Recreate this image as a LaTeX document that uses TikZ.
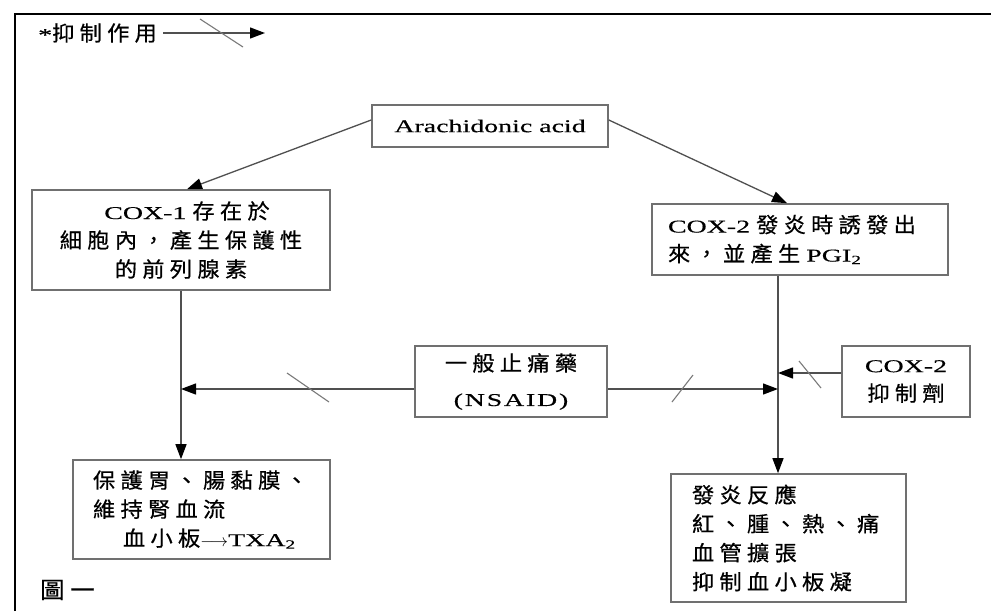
\documentclass[tikz,border=0pt]{standalone}
\usepackage{fontspec}
\setmainfont{Liberation Serif}[FakeStretch=1.55,FakeBold=0.4]
\newfontfamily\cjk{Noto Sans CJK TC}[FakeStretch=1.06,LetterSpace=25,FakeBold=0.6]
\usetikzlibrary{arrows.meta}
\definecolor{boxgray}{HTML}{707070}
\definecolor{linegray}{HTML}{505050}
\definecolor{slashgray}{HTML}{7a7a7a}
\newcommand{\zh}[1]{{\cjk\fontsize{21}{29}\selectfont #1}}
\tikzset{
  box/.style={draw=boxgray, line width=1.6pt, inner sep=0pt, font=\fontsize{18}{29}\selectfont},
  conn/.style={draw=linegray, line width=1.3pt, -{Triangle[length=15pt,width=11pt,color=black]}},
  slash/.style={draw=slashgray, line width=1.1pt},
  frame/.style={draw=black, line width=2pt},
  plain/.style={inner sep=0pt, anchor=west, font=\fontsize{18}{29}\selectfont}
}
\begin{document}
\begin{tikzpicture}[x=1pt,y=-1pt]
\useasboundingbox (0,0) rectangle (991,611);
\fill[white] (0,0) rectangle (991,611);
\draw[frame] (15,611) -- (15,14) -- (991,14);

% legend
\node[plain] (legend) at (38,33) {*\zh{抑制作用}};
\coordinate (legendtip) at (265,33);
\draw[conn] ([xshift=6pt]legend.east) -- (legendtip);
\draw[slash] (200,19) -- (243,47);

% boxes
\node[box, minimum width=236pt, minimum height=42pt, align=center] (arach) at (490,126) {Arachidonic acid};
\node[box, minimum width=298pt, minimum height=100pt, text width=290pt, align=center] (cox1) at (181,240)
  {\hspace*{12pt}COX-1~\zh{存在於}\\ \zh{細胞內，產生保護性}\\ \zh{的前列腺素}};
\node[box, minimum width=296pt, minimum height=71pt, text width=264pt, align=left] (cox2) at (800,239.5)
  {COX-2~\zh{發炎時誘發出}\\ \zh{來，並產生}~PGI\textsubscript{2}};
\node[box, minimum width=257pt, minimum height=99pt, text width=217pt, align=left] (lb) at (201.5,509.5)
  {\zh{保護胃、腸黏膜、}\\ \zh{維持腎血流}\\ \hspace*{30pt}\zh{血小板}$\longrightarrow$TXA\textsubscript{2}};
\node[box, minimum width=235pt, minimum height=128pt, text width=193pt, align=left] (rb) at (788.5,538)
  {\zh{發炎反應}\\ \zh{紅、腫、熱、痛}\\ \zh{血管擴張}\\ \zh{抑制血小板凝}};
\node[box, minimum width=192pt, minimum height=71pt, text width=180pt, align=center] (nsaid) at (511,381.5)
  {\zh{一般止痛藥}\\[6pt] {\addfontfeature{LetterSpace=10}(NSAID)}};
\node[box, minimum width=128pt, minimum height=71pt, text width=120pt, align=center] (cox2i) at (906,381.5)
  {COX-2\\ \zh{抑制劑}};

\node[plain] (fig) at (40,590) {{\cjk\fontsize{23}{29}\selectfont 圖一}};

% connectors
\draw[conn] ([yshift=6pt]arach.west) -- ([xshift=6pt]cox1.north);
\draw[conn] ([yshift=6pt]arach.east) -- ([xshift=-13pt]cox2.north);
\draw[conn] (cox1.south) -- (cox1.south |- lb.north);
\coordinate (c2s) at ([xshift=-22pt]cox2.south);
\draw[conn] (c2s) -- (c2s |- rb.north);
\coordinate (nl) at ([yshift=-7.5pt]nsaid.west);
\coordinate (nr) at ([yshift=-7.5pt]nsaid.east);
\coordinate (ci) at ([yshift=8.5pt]cox2i.west);
\draw[conn] (nl) -- (cox1.south |- nl);
\draw[conn] (nr) -- (c2s |- nr);
\draw[conn] (ci) -- (c2s |- ci);

% inhibition slashes
\draw[slash] (287,373) -- (329,402);
\draw[slash] (672,402) -- (693,375);
\draw[slash] (799,361) -- (821,388);
\end{tikzpicture}
\end{document}
